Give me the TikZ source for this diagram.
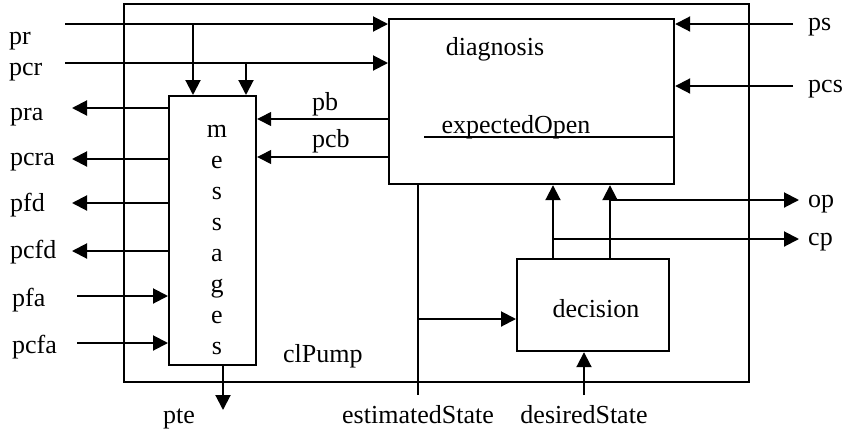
\documentclass[tikz,border=0pt]{standalone}
\usepackage{fontspec}
\setmainfont{Liberation Serif}
\usetikzlibrary{arrows.meta}
\begin{document}
\begin{tikzpicture}[x=1pt,y=-1pt,
  every node/.style={font=\fontsize{26}{30}\selectfont, inner sep=0pt},
  box/.style={draw, line width=2.2pt, anchor=north west, inner sep=0pt},
  wire/.style={line width=2pt},
  thin wire/.style={line width=1.3pt},
  arr/.style={wire, -{Triangle[length=15pt,width=15pt]}},
  thin arr/.style={thin wire, -{Triangle[length=14pt,width=14pt]}},
  lbl/.style={anchor=base west},
  clbl/.style={anchor=base}]
\useasboundingbox (0,0) rectangle (852,432);

% blocks
\node[box, minimum width=625pt, minimum height=378pt] (pump) at (123,3) {};
\node[box, minimum width=87pt, minimum height=269pt] (msg) at (168,95) {};
\node[box, minimum width=285pt, minimum height=165pt] (diag) at (388,18) {};
\node[box, minimum width=152pt, minimum height=92pt] (dec) at (516,258) {};

% block texts
\node[clbl] (diagT) at (495,55) {diagnosis};
\node[clbl] (decT) at (596,317) {decision};
\node[lbl] (pumpT) at (283,362) {clPump};
\foreach \c [count=\i from 0] in {m,e,s,s,a,g,e,s}
  \node[clbl] (msg\i) at (217,137+31*\i) {\c};

% inputs at the top left
\coordinate (prS) at (65,24);
\coordinate (pcrS) at (65,63);
\coordinate (prJ) at (193,24);
\coordinate (pcrJ) at (246,62);
\draw[arr] (prS) -- (prS -| diag.west);
\draw[arr] (pcrS) -- (pcrS -| diag.west);
\draw[arr] (prJ) -- (prJ |- msg.north);
\draw[arr] (pcrJ) -- (pcrJ |- msg.north);
\node[lbl] (prL) at (9,44) {pr};
\node[lbl] (pcrL) at (9,75) {pcr};

% outputs on the left of the message block
\foreach \n/\y/\yb in {pra/108/120, pcra/159/165, pfd/203/211, pcfd/251/258} {
  \coordinate (\n E) at (72,\y);
  \draw[arr] (msg.west |- \n E) -- (\n E);
  \node[lbl] (\n L) at (10,\yb) {\n};
}
% inputs on the left of the message block
\foreach \n/\y/\yb in {pfa/296/306, pcfa/343/353} {
  \coordinate (\n S) at (77,\y);
  \draw[arr] (\n S) -- (\n S -| msg.west);
  \node[lbl] (\n L) at (12,\yb) {\n};
}

% pte
\coordinate (pteE) at (223,410);
\draw[arr] (pteE |- msg.south) -- (pteE);
\node[lbl] (pteL) at (163,423) {pte};

% pb, pcb
\coordinate (pbS) at (388,119);
\coordinate (pcbS) at (388,157);
\draw[thin arr] (pbS) -- (pbS -| msg.east);
\draw[thin arr] (pcbS) -- (pcbS -| msg.east);
\node[lbl] (pbL) at (312,110) {pb};
\node[lbl] (pcbL) at (312,147) {pcb};

% ps, pcs
\coordinate (psS) at (793,24);
\coordinate (pcsS) at (793,86);
\draw[arr] (psS) -- (psS -| diag.east);
\draw[arr] (pcsS) -- (pcsS -| diag.east);
\node[lbl] (psL) at (808,30) {ps};
\node[lbl] (pcsL) at (808,92) {pcs};

% expectedOpen
\coordinate (eoS) at (424,137);
\draw[thin wire] (eoS) -- (eoS -| diag.east);
\node[clbl] (eoT) at (516,133) {expectedOpen};

% estimatedState and desiredState
\coordinate (esE) at (418,395);
\coordinate (esJ) at (418,319);
\draw[wire] (esE |- diag.south) -- (esE);
\draw[arr] (esJ) -- (esJ -| dec.west);
\node[clbl] (esL) at (418,423) {estimatedState};
\coordinate (dsS) at (584,395);
\draw[arr] (dsS) -- (dsS |- dec.south);
\node[clbl] (dsL) at (584,423) {desiredState};

% decision outputs
\coordinate (cpJ) at (553,239);
\coordinate (opJ) at (610,200);
\coordinate (cpE) at (799,239);
\coordinate (opE) at (799,200);
\draw[arr] (cpJ |- dec.north) -- (cpJ |- diag.south);
\draw[arr] (opJ |- dec.north) -- (opJ |- diag.south);
\draw[arr] (cpJ) -- (cpE);
\draw[arr] (opJ) -- (opE);
\node[lbl] (opL) at (808,207) {op};
\node[lbl] (cpL) at (808,245) {cp};
\end{tikzpicture}
\end{document}
